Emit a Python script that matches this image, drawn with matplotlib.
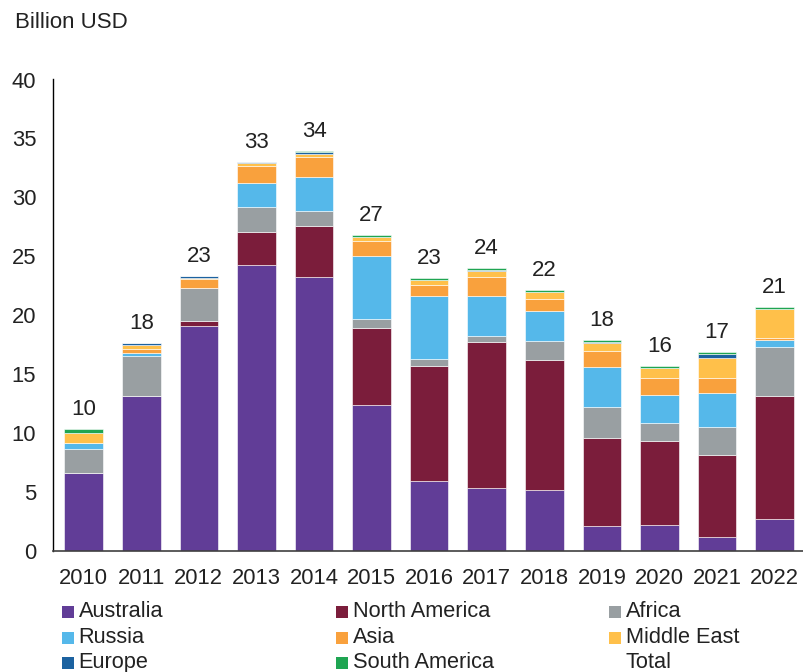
import matplotlib
matplotlib.use('Agg')
import matplotlib.pyplot as plt
from matplotlib.patches import Rectangle
import numpy as np

plt.rcParams['font.family'] = ['Liberation Sans', 'DejaVu Sans']

# Investment by region, billion USD
years = ['2010', '2011', '2012', '2013', '2014', '2015', '2016',
         '2017', '2018', '2019', '2020', '2021', '2022']
australia = [6.64, 13.17, 19.08, 24.23, 23.24, 12.38, 5.94, 5.37, 5.15, 2.09, 2.18, 1.16, 2.69]
north_america = [0, 0, 0.43, 2.80, 4.35, 6.56, 9.73, 12.38, 11.08, 7.47, 7.15, 7.01, 10.48]
africa = [1.99, 3.40, 2.82, 2.12, 1.22, 0.71, 0.59, 0.51, 1.56, 2.63, 1.50, 2.35, 4.13]
russia = [0.56, 0.25, 0, 2.09, 2.91, 5.40, 5.39, 3.39, 2.57, 3.39, 2.38, 2.91, 0.60]
asia = [0, 0.28, 0.77, 1.44, 1.72, 1.27, 0.94, 1.62, 1.01, 1.38, 1.46, 1.24, 0.17]
middle_east = [0.79, 0.40, 0.08, 0.20, 0.23, 0.28, 0.40, 0.45, 0.60, 0.68, 0.85, 1.70, 2.48]
europe = [0, 0.17, 0.12, 0.14, 0.15, 0, 0, 0.14, 0, 0.11, 0, 0.34, 0]
south_america = [0.39, 0, 0, 0, 0.13, 0.18, 0.19, 0.14, 0.17, 0.15, 0.17, 0.17, 0.17]

series = [
    ('Australia', australia, '#613D97'),
    ('North America', north_america, '#7B1D3B'),
    ('Africa', africa, '#999FA2'),
    ('Russia', russia, '#55B8EA'),
    ('Asia', asia, '#F9A13D'),
    ('Middle East', middle_east, '#FFC04A'),
    ('Europe', europe, '#1C62A0'),
    ('South America', south_america, '#1FA552'),
]

W, H = 804, 672
fig = plt.figure(figsize=(W / 100, H / 100), dpi=100)
ax = fig.add_axes([53 / W, (H - 551) / H, (W - 53) / W, (551 - 79.5) / H])

x = np.arange(len(years))
bottom = np.zeros(len(years))
for name, vals, col in series:
    vals = np.array(vals)
    ax.bar(x, vals, width=0.67, bottom=bottom, color=col,
           edgecolor='white', linewidth=0.4, label=name)
    bottom += vals

total = bottom
for xi, t in zip(x, total):
    ax.annotate(f"{t:.0f}", (xi, t), xytext=(0, 10), textcoords='offset points',
                ha='center', va='baseline', fontsize=16, color='#222222')

ax.set_xlim(-0.533, 12.51)
ax.set_ylim(0, 40)
ax.set_yticks(range(0, 41, 5))
ax.set_xticks(x)
ax.set_xticklabels(years)
ax.tick_params(axis='both', length=0, labelsize=15.8, labelcolor='#222222')
ax.tick_params(axis='y', pad=12)
ax.tick_params(axis='x', pad=12.5)
for s in ['top', 'right']:
    ax.spines[s].set_visible(False)
ax.spines['left'].set_color('#000000')
ax.spines['left'].set_linewidth(1.0)
ax.spines['bottom'].set_color('#404040')
ax.spines['bottom'].set_linewidth(1.2)

fig.text(15 / W, 1 - 22.5 / H, 'Billion USD', fontsize=16, va='center',
         ha='left', color='#222222')

# legend laid out in three columns, row by row
legend_items = [(name, col) for name, _, col in series] + [('Total', None)]
marker_x = [62, 336, 609]
text_x = [78.5, 353, 625.5]
row_y = [611.5, 637.5, 662.5]
for i, (name, col) in enumerate(legend_items):
    r, c = divmod(i, 3)
    if col is not None:
        fig.patches.append(Rectangle((marker_x[c] / W, 1 - (row_y[r] + 6) / H),
                                     12 / W, 12 / H, transform=fig.transFigure,
                                     facecolor=col, edgecolor='none'))
    fig.text(text_x[c] / W, 1 - row_y[r] / H, name, fontsize=15.7,
             va='center', ha='left', color='#222222')

fig.savefig('out.png', dpi=100, facecolor='white')
